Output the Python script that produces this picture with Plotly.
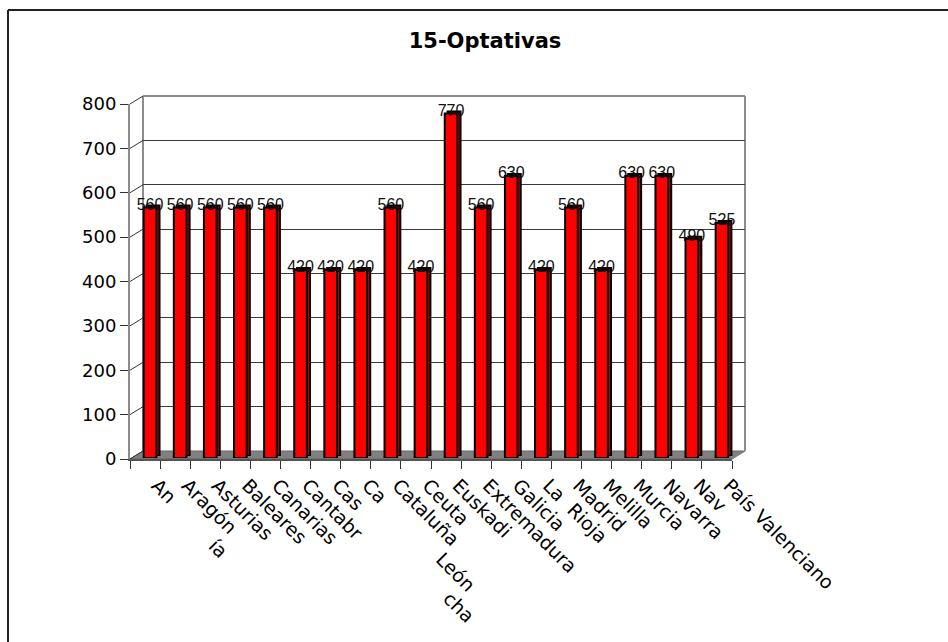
import plotly.graph_objects as go

W, H = 948, 642
TITLE = "15-Optativas"
CATEGORIES = ["Andalucía", "Aragón", "Asturias", "Baleares", "Canarias", "Cantabria",
              "Castilla y León", "Castilla-La Mancha", "Cataluña", "Ceuta", "Euskadi",
              "Extremadura", "Galicia", "La Rioja", "Madrid", "Melilla", "Murcia",
              "Navarra", "Navarra 2", "País Valenciano"]
# Labels as they are visible in the picture (the reference clips several)
TICK_LABELS = ["An", "Aragón", "Asturias", "Baleares", "Canarias", "Cantabr", "Cas", "Ca",
               "Cataluña", "Ceuta", "Euskadi", "Extremadura", "Galicia", "La  Rioja",
               "Madrid", "Melilla", "Murcia", "Navarra", "Nav", "País Valenciano"]
VALUES = [560, 560, 560, 560, 560, 420, 420, 420, 560, 420, 770, 560, 630, 420, 560,
          420, 630, 630, 490, 525]
Y_TICKS = [0, 100, 200, 300, 400, 500, 600, 700, 800]
FRAGMENTS = [("ía", 218, 548), ("León", 456, 572), ("cha", 459, 607)]

L, R, T, B = 130, 732, 104, 459
DX, DY = 13, 8


def px(x):
    return x / W


def py(y):
    return 1 - y / H


def xdom(s):
    return [px(L + s), px(R + s)]


def ydom(s):
    return [py(B - s), py(T - s)]


RX = [-0.5, 19.5]
RY = [0, 800]


def xaxis(shift, anchor):
    return dict(domain=xdom(shift), type="category", categoryorder="array",
                categoryarray=CATEGORIES, range=RX, visible=False, anchor=anchor)


def yaxis(bottom, top, anchor):
    return dict(domain=[py(bottom), py(top)], range=RY, visible=False, anchor=anchor)


fig = go.Figure()
# main axes carrier (invisible, gives the tick labels)
fig.add_trace(go.Bar(x=TICK_LABELS, y=VALUES, opacity=0, xaxis="x", yaxis="y",
                     showlegend=False, hoverinfo="skip"))
# wall carrier
fig.add_trace(go.Bar(x=CATEGORIES, y=VALUES, opacity=0, xaxis="x2", yaxis="y2",
                     showlegend=False, hoverinfo="skip"))
# depth side of the bars
fig.add_trace(go.Bar(x=CATEGORIES, y=VALUES, width=0.43, xaxis="x3", yaxis="y3", showlegend=False,
                     marker=dict(color="#b80000", line=dict(color="#000000", width=2))))
# front of the bars
fig.add_trace(go.Bar(x=CATEGORIES, y=VALUES, width=0.42, xaxis="x4", yaxis="y4", showlegend=False,
                     marker=dict(color="#ff0000", line=dict(color="#000000", width=2))))
# value labels
fig.add_trace(go.Scatter(x=CATEGORIES, y=VALUES, mode="text", text=[str(v) for v in VALUES],
                         textposition="middle center", xaxis="x5", yaxis="y5", showlegend=False,
                         textfont=dict(family="Liberation Sans", size=16, color="#111111"),
                         cliponaxis=False))

shapes = []
# outer frame: top and left only
shapes.append(dict(type="line", xref="paper", yref="paper", x0=px(8), x1=1, y0=py(10), y1=py(10),
                   line=dict(color="#222222", width=2)))
shapes.append(dict(type="line", xref="paper", yref="paper", x0=px(8), x1=px(8), y0=py(10), y1=0,
                   line=dict(color="#222222", width=2)))
# floor
shapes.append(dict(type="path", xref="paper", yref="paper", layer="below",
                   path=f"M {px(L)} {py(B)} L {px(L+DX)} {py(B-DY)} L {px(R+DX)} {py(B-DY)} L {px(R)} {py(B)} Z",
                   fillcolor="#808080", line=dict(color="#666666", width=1)))
# wall outline
for a, b, c, d in [(L + DX, T - DY, L + DX, B - DY), (L + DX, T - DY, R + DX, T - DY),
                   (R + DX, T - DY, R + DX, B - DY)]:
    shapes.append(dict(type="line", xref="paper", yref="paper", layer="below",
                       x0=px(a), x1=px(c), y0=py(b), y1=py(d),
                       line=dict(color="#8c8c8c", width=2)))
shapes.append(dict(type="line", xref="paper", yref="paper", layer="below",
                   x0=px(R), x1=px(R + DX), y0=py(B), y1=py(B - DY),
                   line=dict(color="#8c8c8c", width=1)))
# side wall diagonals at each value tick
for v in Y_TICKS:
    y = B - (B - T) * v / 800
    shapes.append(dict(type="line", xref="paper", yref="paper", layer="below",
                       x0=px(L), x1=px(L + DX), y0=py(y), y1=py(y - DY),
                       line=dict(color="#333333", width=1)))

annotations = [dict(text=t, x=px(x), y=py(y), xref="paper", yref="paper", showarrow=False,
                    textangle=45, xanchor="center", yanchor="middle",
                    font=dict(family="DejaVu Sans", size=19, color="#000000"))
               for t, x, y in FRAGMENTS]

fig.update_layout(
    width=W, height=H, margin=dict(l=0, r=0, t=0, b=0),
    paper_bgcolor="#ffffff", plot_bgcolor="rgba(0,0,0,0)",
    barmode="overlay", showlegend=False, shapes=shapes, annotations=annotations,
    title=dict(text=f"<b>{TITLE}</b>", x=px(485), y=py(41), xanchor="center", yanchor="middle",
               font=dict(family="DejaVu Sans", size=21, color="#000000")),
    xaxis=dict(domain=xdom(0), type="category", range=RX, anchor="y", tickson="boundaries",
               categoryorder="array", categoryarray=TICK_LABELS,
               ticks="outside", ticklen=8, tickwidth=1, tickcolor="#333333",
               showline=True, linecolor="#555555", linewidth=2, showgrid=False,
               tickangle=45, tickfont=dict(family="DejaVu Sans", size=19, color="#000000"),
               dtick=1, ticklabelstandoff=6, ticklabelshift=12, automargin=False),
    yaxis=dict(domain=ydom(0), range=RY, anchor="x", tickvals=Y_TICKS, ticks="outside", ticklen=8,
               tickwidth=1, tickcolor="#333333", showline=True, linecolor="#8c8c8c", linewidth=2,
               showgrid=False, zeroline=False,
               tickfont=dict(family="DejaVu Sans", size=18, color="#000000"), automargin=False),
    xaxis2=dict(xaxis(DX, "y2")),
    yaxis2=dict(domain=ydom(DY), range=RY, anchor="x2", tickvals=Y_TICKS, showticklabels=False,
                ticks="", showline=False, zeroline=False, showgrid=True,
                gridcolor="#3a3a3a", gridwidth=1),
    xaxis3=xaxis(8, "y3"),
    yaxis3=yaxis(456, 98, "x3"),
    xaxis4=xaxis(5, "y4"),
    yaxis4=yaxis(458, 100, "x4"),
    xaxis5=xaxis(5, "y5"),
    yaxis5=yaxis(B - 5, T - 5, "x5"),
)

fig.write_html("out.html", config={"displayModeBar": False},
               post_script="document.body.style.margin='0';")
